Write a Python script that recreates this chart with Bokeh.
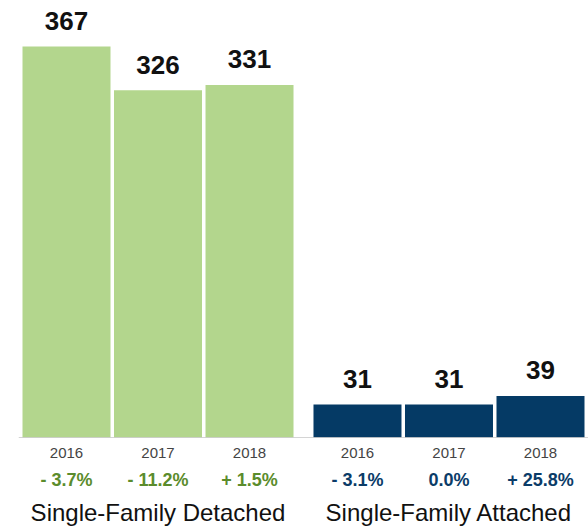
from bokeh.plotting import figure
from bokeh.models import FactorRange, Range1d, ColumnDataSource, Span
from bokeh.core.properties import value
from bokeh.embed import file_html
from bokeh.resources import INLINE

groups = ["Single-Family Detached", "Single-Family Attached"]
years = ["2016", "2017", "2018"]
detached_values = [367, 326, 331]
attached_values = [31, 31, 39]
detached_changes = ["- 3.7%", "- 11.2%", "+ 1.5%"]
attached_changes = ["- 3.1%", "0.0%", "+ 25.8%"]
bar_colors = ["#b3d68d", "#053a65"]
change_colors = ["#5b8c2c", "#0b3c68"]

FONT = value("Liberation Sans")

factors = [(g, y) for g in groups for y in years]
vals = detached_values + attached_values
changes = detached_changes + attached_changes
fill = [bar_colors[0]] * 3 + [bar_colors[1]] * 3
tcol = [change_colors[0]] * 3 + [change_colors[1]] * 3

src = ColumnDataSource(dict(
    x=factors, top=vals, label=[str(v) for v in vals],
    year=[f[1] for f in factors], change=changes, fill=fill, tcol=tcol,
    zero=[0] * 6,
))
gsrc = ColumnDataSource(dict(x=[(g, years[1]) for g in groups], name=groups, zero=[0, 0]))

x_range = FactorRange(*factors, group_padding=0.18, factor_padding=0.0,
                      range_padding=0.0246, range_padding_units="absolute")

p = figure(width=588, height=529, x_range=x_range, y_range=Range1d(0, 402.7),
           output_backend="svg", toolbar_location=None,
           x_axis_location=None, y_axis_location=None,
           min_border_left=18, min_border_right=0, min_border_top=8, min_border_bottom=92)
p.outline_line_color = None
p.xgrid.visible = False
p.ygrid.visible = False
p.background_fill_color = "white"

p.vbar(x="x", top="top", width=0.9617, source=src, fill_color="fill", line_color=None)

p.add_layout(Span(location=0, dimension="width", line_color="#aaaaaa", line_width=1))

r = p.text(x="x", y="top", text="label", source=src, text_align="center",
           text_baseline="alphabetic", y_offset=-25.5, text_font=FONT,
           text_font_style="bold", text_font_size="26px", text_color="#111111")
r.level = "overlay"
r = p.text(x="x", y="zero", text="year", source=src, text_align="center",
           text_baseline="alphabetic", y_offset=15, text_font=FONT,
           text_font_size="15px", text_color="#444444")
r.level = "overlay"
r = p.text(x="x", y="zero", text="change", source=src, text_align="center",
           text_baseline="alphabetic", y_offset=42, text_font=FONT,
           text_font_style="bold", text_font_size="18px", text_color="tcol")
r.level = "overlay"
r = p.text(x="x", y="zero", text="name", source=gsrc, text_align="center",
           text_baseline="alphabetic", y_offset=75, text_font=FONT,
           text_font_size="24px", text_color="#111111")
r.level = "overlay"

open("out.html", "w").write(file_html(p, INLINE))
